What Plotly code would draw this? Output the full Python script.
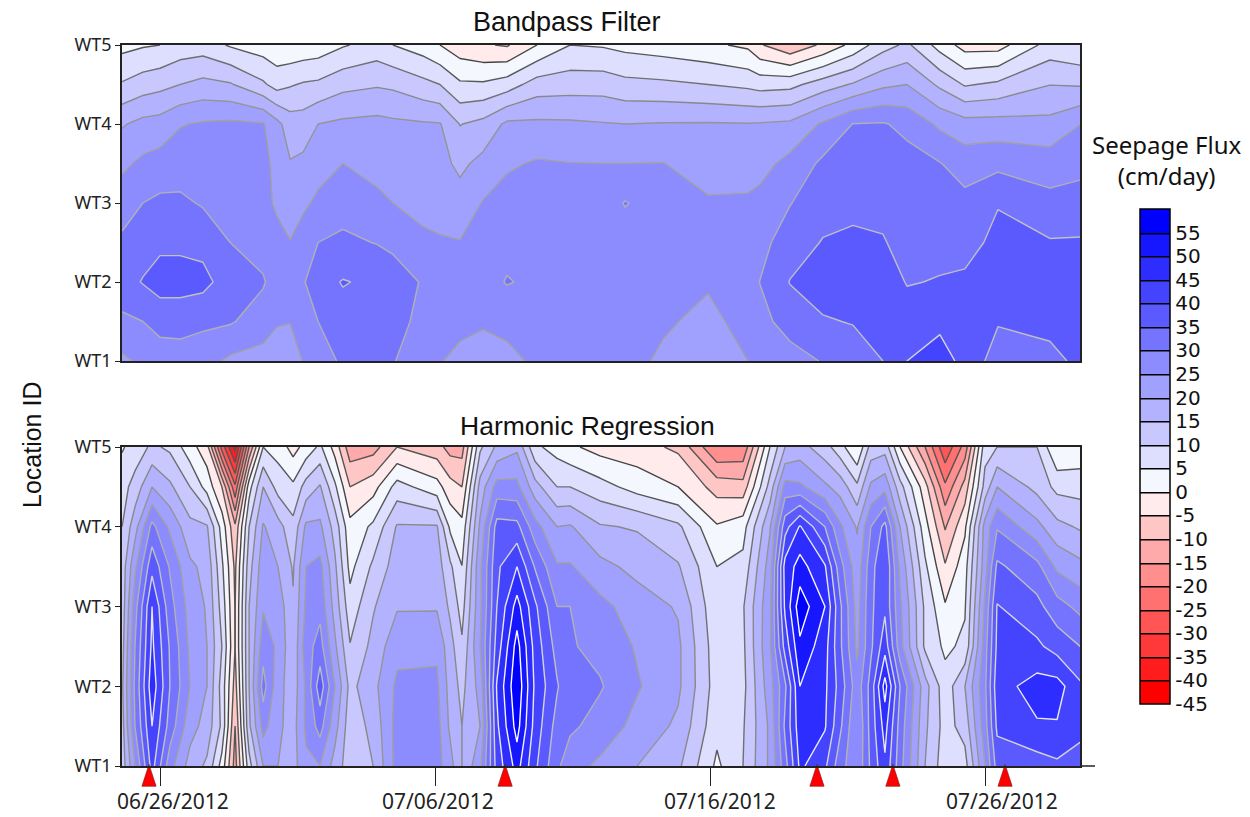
import numpy as np
import plotly.graph_objects as go

# ---- data ----
location_rows = [5, 4.5, 4, 3.5, 3, 2.5, 2, 1.5, 1]
location_ticks = [1, 2, 3, 4, 5]
location_labels = ["WT1", "WT2", "WT3", "WT4", "WT5"]
date_ticks = [0, 10, 20, 30]
date_labels = ["06/26/2012", "07/06/2012", "07/16/2012", "07/26/2012"]
event_days = [-0.4, 12.55, 23.89, 26.65, 30.73]
event_level = [1.02, 1.02, 1.02, 1.02, 1.02]
flux_ticks = list(range(-45, 60, 5))
flux_labels = [str(v) for v in flux_ticks]

# days since 06/26/2012, each with flux at WT5 ... WT1
bandpass_days = [-1.38,-0.62,0,0.73,1.56,2.55,3.75,4.25,4.73,5.2,5.75,6.65,7.89,8.47,9.56,10.18,10.91,11.75,12.62,13.71,14.91,16.11,16.91,18.29,19.93,21.38,21.82,22.91,24.11,25.2,26.29,27.16,28.36,29.27,30.47,32.36,33.6]
bandpass_cols = [
[3.5,10.5,19.5,24,27.5,31,33,29,24],
[4.5,12.5,21.5,26,30,33,35.3,30,26],
[5,13.5,22,27,31,34,37,32,27],
[7,15,24.7,27.5,31,34,37,32,27.5],
[7.5,16.5,25.5,27.5,29.5,33.5,36.5,31,27],
[4.5,15.5,26,27.5,28.5,30,32.5,30.5,24],
[2.5,10.8,25.4,26.5,27,28,30.5,27.5,23],
[1.5,8,21.5,23.5,24,27,27.5,25.5,22],
[1,9.5,17.5,20.3,22.5,25.2,26,25.2,21],
[1.5,10.5,17.5,21,24,27.5,29.5,28,25.3],
[2,11,20,23,26,30,33,30,27],
[4.5,13.5,21,25,28,31,35.3,33,31],
[7,14.5,21.5,23.5,26,29.8,34,33,31.5],
[5,14,21,23,25,28.7,33,32,30.3],
[2.5,11.5,20.5,22,23.5,26,29.5,28.5,27],
[0,10,20.3,21.5,23,25.5,27.5,26.5,25.2],
[-3,5.8,14.8,18.9,22,25.2,27,26,24],
[-4.5,5.7,16.5,21.5,25.3,27,28,25.5,23],
[-5.5,7.5,21,24.3,27,28.5,30.3,26.5,23.5],
[0,12.3,21,25.5,27,28,29,27.5,26],
[5,12.8,20.8,25.1,27,27.7,28,28,27],
[4.5,12.8,20.3,25,27,27,27,27,26],
[3.5,11.5,20,25,30.3,27.5,27.5,27.5,27],
[2.5,11,20.3,25.1,27.5,27.5,27.5,25.8,24],
[1,10,20.4,23,25.5,27.3,25.6,23.5,22],
[-1,8.8,20.2,23.5,25.5,27.5,28,27,25],
[-4.5,8,20.4,23.3,26.5,28.5,30.1,28.5,26.5],
[-9,8.5,21,26.5,29.8,32.5,35.2,32,28],
[-4,12.5,25.7,31,33,35.3,37.5,34.5,30.3],
[1.5,15.5,30.1,32,33.7,36,38,35.3,32],
[8,19,30.4,32,33.5,35.4,38,37,35],
[11,20,28.7,31.8,32.5,33,34.7,37.5,40],
[3,14,24,30.2,32,33.5,35.3,38.5,43],
[-2,9.5,22,27.7,31.5,33,36,38,38],
[-2,11,22,28.7,34.7,36.5,37,35.3,33],
[7,14.9,21.5,27.5,31.5,35.4,37.5,36,34],
[5,14.5,25.3,28.7,32,35.5,37.5,37,36],
]

harmonic_days = [-1.38,-0.91,-0.29,0.36,1.09,1.71,2.25,2.73,3.24,3.75,4.29,4.84,5.31,5.82,6.36,6.91,7.75,8.62,10.07,10.55,10.98,11.64,12.25,12.98,13.64,14.44,14.91,16.0,17.35,18.84,20.25,21.2,22.18,22.73,23.27,24.18,24.73,25.35,25.85,26.36,26.91,27.82,28.55,29.27,30.0,30.44,31.89,32.62,33.6]
harmonic_cols = [
[4.5,8,10,12,12,13,14,13,12],
[7,12,18,24,28,30,31,30,25],
[11,20,31.5,38.5,45,46,48,45,42],
[9,16,24,29.5,32,34.5,35,33,27],
[2,10,16.5,21,23,24,25,22,18],
[-3,3,15.5,18.5,19.5,20,20,18,14],
[-27,-5,3,6,8,10,8,9,3],
[-42,-24,-9,-6,-5.2,-5,-7,-10,-12],
[-15,3,10,13,15,15,15,14,8],
[5,15,20.5,23,24.5,28,32,27,20],
[3,8,17,20,23,24,22,21,20],
[-2,6,11.5,14.5,15.5,16,17,18,18],
[2,12,21,25,26,28,26,26,24],
[6,15.5,21,26.5,28.5,32,38,32,25],
[-2,6,13,16,18,21,25,22,18],
[-13,-5,1.5,3.5,7,10.3,13.5,12,12],
[-12,-2,6,11,14.5,16.5,18.5,16.5,15],
[-5,7,15.5,17.5,19.5,23.5,26,27,27],
[-8,2,15.5,17.5,19.5,24,26,27,27],
[-12,-3,4,11,14,17,18,19,22],
[-12,-5,1.5,5.1,8,10.8,13.5,15,15],
[9,17,21,24,24,25,22,20,24],
[16,27,37,39,40,42,45.5,44,42],
[19,26.5,36.5,45,52,57,59,57,52],
[6,17,27,34.5,41,43,44,43,41],
[3,10,20,25.5,30,33,35.5,33,31],
[1,10,20.5,25.5,30,30.5,31,31,27],
[-2,7,15.5,21.5,26.5,28.5,30.5,28,24],
[-3,3,14.5,18.5,22.5,24.5,25.5,23.5,20],
[-6,0,11,15.5,19.5,21,21,19,16],
[-20,-7,0.5,5,6,7,7.5,6.5,4],
[-19,-8,3,6.5,9.5,9,8.5,9.5,10],
[5,12,19.5,22.5,24,24.5,23,21,21],
[15,27,38,47,46,42,34,36,33],
[17,26,45.5,52,58,54,50,48,46],
[12,21,35,45.5,50,47,46,45.5,41],
[7,18,26,32,36,36,38,36,32],
[0,11,19.5,22,23,24,27,25,26],
[12,21,30,33,34,34,37,37,36],
[13,23.5,36.5,40,39,43,52,47,44],
[0,12,20,24,26,27,35,33,32],
[-15,-3,2,6,9,9,17,16,15],
[-29,-19,-10.5,-4.5,0.5,4,7,8,7],
[-18,-8,-1,3,4.5,6,15,12,8],
[8,12,22,23,26,28,29,28,25],
[10,20,29.5,36,40.3,41,43,41,37],
[10,13.5,21.5,31.5,36.5,41,47,44.5,37.5],
[0,8.5,16.5,24,32,38,47,44.6,39],
[1.5,8,14,21,28,34.5,40.2,41,38],
]

# ---- styles ----
band_colors = ["#ff0000","#ff1c1c","#ff3939","#ff5555","#ff7171","#ff8e8e","#ffaaaa","#ffc6c6","#ffebeb",
               "#f5f7ff","#dedeff","#c8c8ff","#b2b2ff","#a0a0ff","#8c8cff","#7474ff","#5a5aff","#4444ff","#2d2dff","#1717ff","#0000ff"]
band_scale = [[i / 20, c] for i, c in enumerate(band_colors)]
step_scale = []
for i, c in enumerate(band_colors):
    step_scale += [[i / 21, c], [(i + 1) / 21, c]]
line_scale = [[0, "#555555"], [0.40, "#555555"], [0.42, "#444444"], [0.47, "#555555"], [0.58, "#8a8a8a"],
              [0.68, "#a0a0a0"], [0.79, "#c0c0c0"], [0.89, "#e8e8e8"], [1, "#ffffff"]]
levels = dict(start=-40, end=55, size=5)
W, H = 1250, 817
TOP = (45, 361)
BOT = (447, 766)
LEFT, RIGHT = 122, 1080
AX_FONT = "Noto Sans"
DATE_SHIFTS = [13, 3, 10, 17]


def z_of(cols):
    return np.array(cols).T[::-1].tolist()


y_vals = location_rows[::-1]
fig = go.Figure()


def add_panel(days, cols, xa, ya, with_bar):
    z = z_of(cols)
    common = dict(x=days, y=y_vals, z=z, xaxis=xa, yaxis=ya, autocontour=False, hoverinfo="skip")
    if with_bar:
        fig.add_trace(go.Contour(**common, contours=dict(coloring="heatmap", showlines=True, **levels),
                                 zmin=-45, zmax=60, colorscale=step_scale, line=dict(color="#000000", width=1.5, smoothing=0),
                                 colorbar=dict(x=1140 / W, xanchor="left", xpad=0, ypad=0, y=1 - 209 / H, yanchor="top",
                                               len=495 / H, lenmode="fraction", thickness=30, thicknessmode="pixels",
                                               outlinecolor="#000000", outlinewidth=1.5,
                                               tickmode="array", tickvals=flux_ticks, ticktext=flux_labels, ticks="",
                                               tickfont=dict(family="DejaVu Sans", size=20, color="#111111"))))
    fig.add_trace(go.Contour(**common, contours=dict(coloring="fill", showlines=False, **levels),
                             colorscale=band_scale, showscale=False, line=dict(width=0, smoothing=0)))
    fig.add_trace(go.Contour(**common, contours=dict(coloring="lines", **levels),
                             colorscale=line_scale, showscale=False, line=dict(width=1.4, smoothing=0)))


add_panel(bandpass_days, bandpass_cols, "x", "y", False)
add_panel(harmonic_days, harmonic_cols, "x2", "y2", True)

fig.add_trace(go.Scatter(x=event_days, y=event_level, xaxis="x2", yaxis="y2", mode="markers", cliponaxis=False,
                         hoverinfo="skip", showlegend=False,
                         marker=dict(symbol="arrow", size=23, color="#ff0000", line=dict(color="#7a1010", width=0.6))))

xr = [(LEFT - 160) / 27.5, (RIGHT - 160) / 27.5]
y_axis = dict(range=[1, 5], tickmode="array", tickvals=location_ticks, ticktext=location_labels, ticks="outside",
              ticklen=5, tickcolor="#222222", showgrid=False, zeroline=False, showline=True, mirror=True,
              linecolor="#222222", linewidth=1.5, tickfont=dict(family=AX_FONT, size=18, color="#222222"))


def note(text, px, py, size, family="Liberation Sans", **kw):
    return dict(text=text, xref="paper", yref="paper", x=px / W, y=1 - py / H, showarrow=False,
                xanchor="center", yanchor="middle", font=dict(family=family, size=size, color="#111111"), **kw)


date_notes = [dict(text=t, xref="x2", yref="paper", x=v, xshift=s, y=1 - 801 / H, showarrow=False, xanchor="center",
                   yanchor="middle", font=dict(family=AX_FONT, size=21, color="#222222"))
              for t, v, s in zip(date_labels, date_ticks, DATE_SHIFTS)]

fig.update_layout(
    width=W, height=H, margin=dict(l=0, r=0, t=0, b=0, autoexpand=False), paper_bgcolor="white", plot_bgcolor="white", showlegend=False,
    xaxis=dict(domain=[LEFT / W, RIGHT / W], range=xr, showticklabels=False, ticks="", showgrid=False, zeroline=False,
               showline=True, mirror=True, linecolor="#222222", linewidth=1.5, anchor="y"),
    xaxis2=dict(domain=[LEFT / W, RIGHT / W], range=xr, tickmode="array", tickvals=date_ticks, showticklabels=False,
                ticks="outside", ticklen=18, tickcolor="#222222", showgrid=False, zeroline=False, showline=True,
                mirror=True, linecolor="#222222", linewidth=1.5, anchor="y2"),
    yaxis=dict(domain=[1 - TOP[1] / H, 1 - TOP[0] / H], anchor="x", **y_axis),
    yaxis2=dict(domain=[1 - BOT[1] / H, 1 - BOT[0] / H], anchor="x2", **y_axis),
    shapes=[dict(type="line", xref="paper", yref="paper", x0=RIGHT / W, x1=1095 / W, y0=1 - BOT[1] / H, y1=1 - BOT[1] / H,
                 line=dict(color="#222222", width=1.5))],
    annotations=[
        note("Bandpass Filter", 567, 22, 27),
        note("Harmonic Regression", 587, 426, 26.5),
        note("Location ID", 32, 445, 25, textangle=-90),
        note("Seepage Flux<br>(cm/day)", 1166, 160, 24, family=AX_FONT),
    ] + date_notes,
)
fig.write_html("out.html", config={"displayModeBar": False},
               post_script="document.body.style.margin='0';document.body.style.overflow='hidden';")
